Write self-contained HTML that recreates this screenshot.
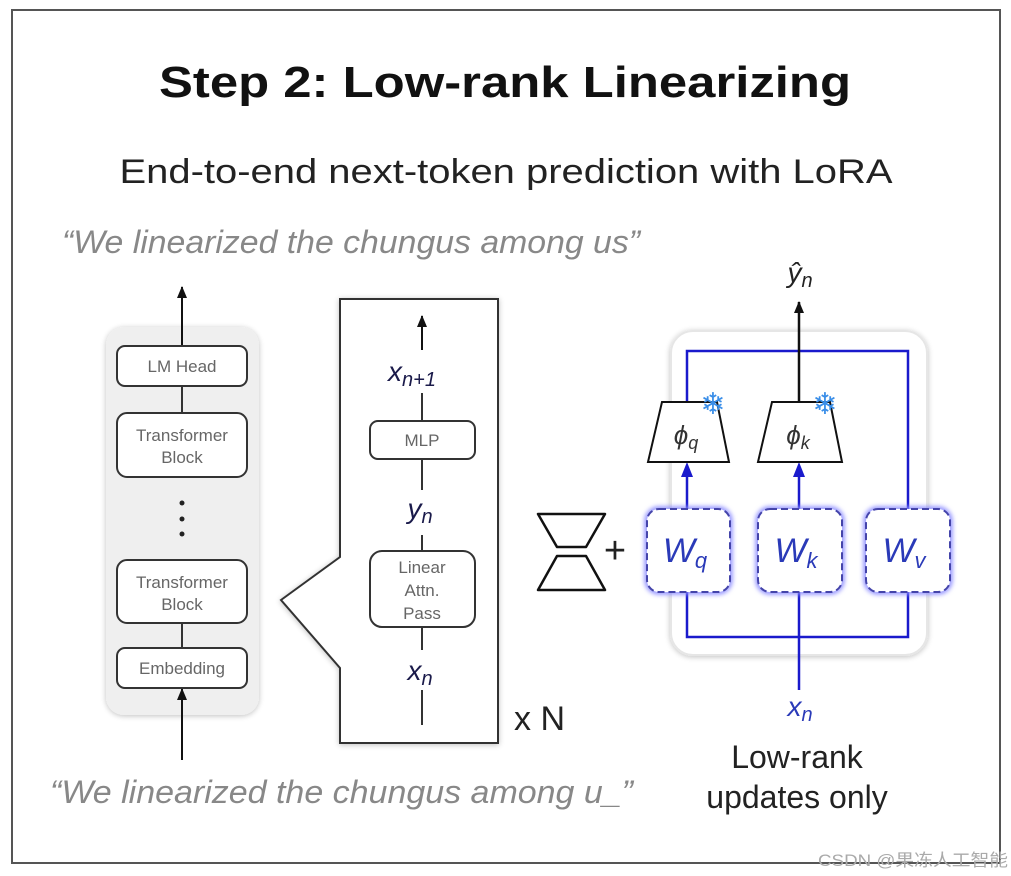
<!DOCTYPE html>
<html><head><meta charset="utf-8"><style>
html,body{margin:0;padding:0;background:#fff;}
svg{display:block;}
text{font-family:"Liberation Sans","Noto Sans CJK SC",sans-serif;}
</style></head><body>
<svg width="1011" height="876" viewBox="0 0 1011 876" xmlns="http://www.w3.org/2000/svg">
<defs>
<filter id="sh" x="-10%" y="-10%" width="120%" height="120%"><feGaussianBlur in="SourceAlpha" stdDeviation="3"/><feOffset dy="1"/><feComponentTransfer><feFuncA type="linear" slope="0.25"/></feComponentTransfer><feMerge><feMergeNode/><feMergeNode in="SourceGraphic"/></feMerge></filter>
<filter id="glow" x="-20%" y="-20%" width="140%" height="140%"><feGaussianBlur stdDeviation="2.5"/></filter>
<marker id="ab" markerWidth="12" markerHeight="10" refX="11" refY="5" orient="auto" markerUnits="userSpaceOnUse"><path d="M0,0 L12,5 L0,10 Z" fill="#111"/></marker>
</defs>
<rect x="12" y="10" width="988" height="853" fill="#fff" stroke="#555" stroke-width="2"/>
<text x="505" y="97" font-size="44" font-weight="bold" text-anchor="middle" textLength="692" lengthAdjust="spacingAndGlyphs" fill="#111">Step 2: Low-rank Linearizing</text>
<text x="506" y="183" font-size="34" text-anchor="middle" textLength="773" lengthAdjust="spacingAndGlyphs" fill="#222">End-to-end next-token prediction with LoRA</text>
<text x="62" y="253" font-size="32" font-style="italic" textLength="578" lengthAdjust="spacingAndGlyphs" fill="#888">“We linearized the chungus among us”</text>
<text x="50" y="803" font-size="32" font-style="italic" textLength="583" lengthAdjust="spacingAndGlyphs" fill="#888">“We linearized the chungus among u_”</text>

<!-- left panel -->
<rect x="106" y="327" width="153" height="388" rx="18" fill="#efefef" filter="url(#sh)"/>
<line x1="182" y1="346" x2="182" y2="287" stroke="#111" stroke-width="2" marker-end="url(#ab)"/>
<line x1="182" y1="760" x2="182" y2="689" stroke="#111" stroke-width="2" marker-end="url(#ab)"/>
<line x1="182" y1="386" x2="182" y2="413" stroke="#333" stroke-width="2"/>
<line x1="182" y1="623" x2="182" y2="648" stroke="#333" stroke-width="2"/>
<g fill="#fff" stroke="#333" stroke-width="2">
<rect x="117" y="346" width="130" height="40" rx="8"/>
<rect x="117" y="413" width="130" height="64" rx="10"/>
<rect x="117" y="560" width="130" height="63" rx="10"/>
<rect x="117" y="648" width="130" height="40" rx="8"/>
</g>
<g font-size="17" fill="#666" text-anchor="middle">
<text x="182" y="372">LM Head</text>
<text x="182" y="441">Transformer</text><text x="182" y="463">Block</text>
<text x="182" y="588">Transformer</text><text x="182" y="610">Block</text>
<text x="182" y="674">Embedding</text>
</g>
<circle cx="182" cy="503" r="2.5" fill="#222"/><circle cx="182" cy="519" r="2.5" fill="#222"/><circle cx="182" cy="534" r="2.5" fill="#222"/>

<!-- middle panel -->
<path d="M340,299 L498,299 L498,743 L340,743 L340,668 L281,600 L340,557 Z" fill="#fff" stroke="#333" stroke-width="2" filter="url(#sh)"/>
<line x1="422" y1="350" x2="422" y2="316" stroke="#111" stroke-width="2" marker-end="url(#ab)"/>
<line x1="422" y1="393" x2="422" y2="421" stroke="#333" stroke-width="2"/>
<line x1="422" y1="459" x2="422" y2="490" stroke="#333" stroke-width="2"/>
<line x1="422" y1="535" x2="422" y2="551" stroke="#333" stroke-width="2"/>
<line x1="422" y1="627" x2="422" y2="650" stroke="#333" stroke-width="2"/>
<line x1="422" y1="690" x2="422" y2="725" stroke="#333" stroke-width="2"/>
<rect x="370" y="421" width="105" height="38" rx="8" fill="#fff" stroke="#333" stroke-width="2"/>
<rect x="370" y="551" width="105" height="76" rx="12" fill="#fff" stroke="#333" stroke-width="2"/>
<g font-size="17" fill="#666" text-anchor="middle">
<text x="422" y="446">MLP</text>
<text x="422" y="573">Linear</text><text x="422" y="596">Attn.</text><text x="422" y="619">Pass</text>
</g>
<g fill="#1a1a4a" font-style="italic" text-anchor="middle">
<text x="412" y="381" font-size="28">x<tspan font-size="20" dy="5">n+1</tspan></text>
<text x="420" y="518" font-size="28">y<tspan font-size="20" dy="5">n</tspan></text>
<text x="420" y="680" font-size="28">x<tspan font-size="20" dy="5">n</tspan></text>
</g>
<text x="514" y="730" font-size="34" fill="#222">x N</text>

<!-- hourglass -->
<path d="M538,514 L605,514 L586,547 L557,547 Z M557,556 L586,556 L605,590 L538,590 Z" fill="#fff" stroke="#111" stroke-width="2.5" stroke-linejoin="round"/>
<text x="615" y="563" font-size="38" text-anchor="middle" fill="#222">+</text>

<!-- right panel -->
<rect x="671" y="331" width="256" height="324" rx="22" fill="#fff" stroke="#e6e6e6" stroke-width="2" filter="url(#sh)"/>
<g stroke="#1a1acc" stroke-width="2.5" fill="none">
<polyline points="687,402 687,351 908,351 908,509"/>
<polyline points="687,592 687,637 908,637 908,592"/>
<line x1="799" y1="592" x2="799" y2="690"/>
<line x1="687" y1="509" x2="687" y2="475"/>
<line x1="799" y1="509" x2="799" y2="475"/>
</g>
<path d="M681,477 L687,462 L693,477 Z M793,477 L799,462 L805,477 Z" fill="#1a1acc"/>
<line x1="799" y1="402" x2="799" y2="302" stroke="#111" stroke-width="2.5" marker-end="url(#ab)"/>
<path d="M662,402 L717,402 L729,462 L648,462 Z M772,402 L830,402 L842,462 L758,462 Z" fill="#fff" stroke="#111" stroke-width="2"/>
<g font-style="italic" fill="#333" font-size="26" text-anchor="middle">
<text x="686" y="444">ϕ<tspan font-size="18" dy="5">q</tspan></text>
<text x="798" y="444">ϕ<tspan font-size="18" dy="5">k</tspan></text>
</g>
<text x="713" y="414" font-size="30" fill="#3a8ee8" text-anchor="middle">❄</text>
<text x="825" y="414" font-size="30" fill="#3a8ee8" text-anchor="middle">❄</text>
<g>
<rect x="647" y="509" width="83" height="83" rx="12" fill="none" stroke="#8a8aff" stroke-width="5" filter="url(#glow)"/>
<rect x="758" y="509" width="84" height="83" rx="12" fill="none" stroke="#8a8aff" stroke-width="5" filter="url(#glow)"/>
<rect x="866" y="509" width="84" height="83" rx="12" fill="none" stroke="#8a8aff" stroke-width="5" filter="url(#glow)"/>
</g>
<g fill="#fff" stroke="#4444aa" stroke-width="2" stroke-dasharray="7,4">
<rect x="647" y="509" width="83" height="83" rx="12"/>
<rect x="758" y="509" width="84" height="83" rx="12"/>
<rect x="866" y="509" width="84" height="83" rx="12"/>
</g>
<g font-style="italic" fill="#2a3ab8" font-size="34" text-anchor="middle">
<text x="685" y="562">W<tspan font-size="22" dy="6">q</tspan></text>
<text x="796" y="562">W<tspan font-size="22" dy="6">k</tspan></text>
<text x="904" y="562">W<tspan font-size="22" dy="6">v</tspan></text>
</g>
<text x="800" y="716" font-size="28" font-style="italic" fill="#2a3ab8" text-anchor="middle">x<tspan font-size="20" dy="5">n</tspan></text>
<text x="800" y="282" font-size="28" font-style="italic" fill="#222" text-anchor="middle">ŷ<tspan font-size="20" dy="5">n</tspan></text>
<text x="797" y="768" font-size="32" text-anchor="middle" fill="#222">Low-rank</text>
<text x="797" y="808" font-size="32" text-anchor="middle" fill="#222">updates only</text>
<text x="818" y="866" font-size="17" textLength="190" lengthAdjust="spacingAndGlyphs" fill="#aaa">CSDN @果冻人工智能</text>
</svg>
</body></html>
